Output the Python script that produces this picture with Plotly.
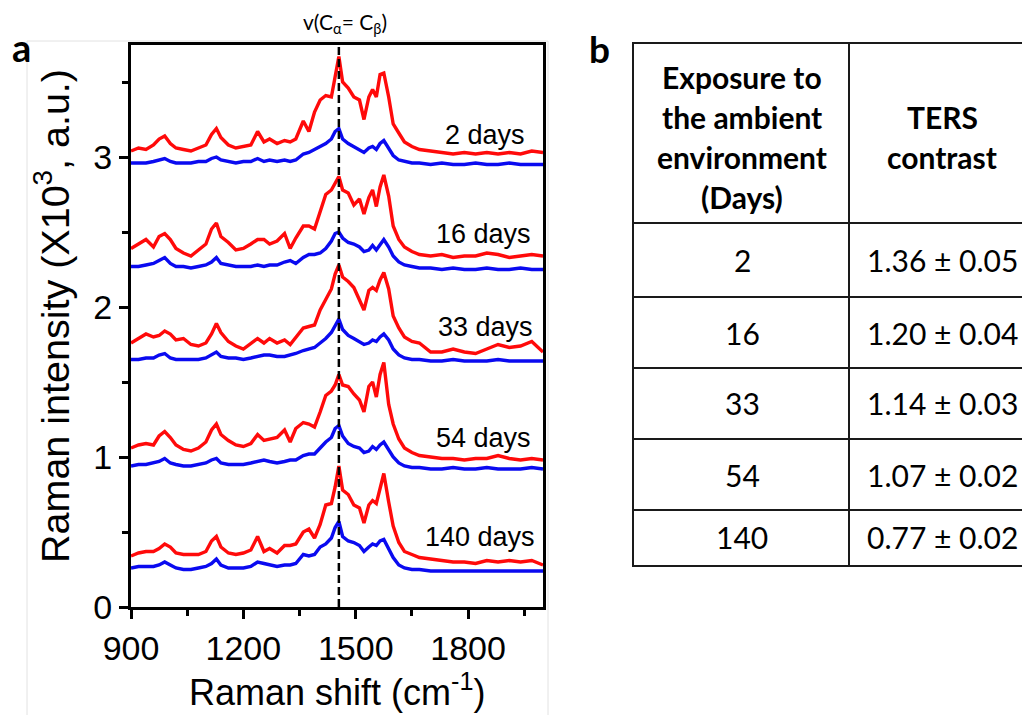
import plotly.graph_objects as go

W, H = 1022, 715

# ---------------- data ----------------
wavenumber = [900, 920, 940, 960, 975, 990, 1005, 1020, 1040, 1060, 1080, 1100, 1115, 1128, 1140,
              1160, 1180, 1200, 1220, 1238, 1255, 1270, 1290, 1310, 1325, 1340, 1360, 1375, 1390,
              1405, 1420, 1435, 1445, 1455, 1465, 1480, 1495, 1510, 1522, 1535, 1545, 1555, 1565,
              1575, 1588, 1600, 1615, 1630, 1650, 1670, 1700, 1730, 1760, 1790, 1820, 1850, 1880,
              1910, 1940, 1970, 2000]

red_2 = [3.04, 3.06, 3.05, 3.08, 3.12, 3.14, 3.09, 3.06, 3.05, 3.04, 3.06, 3.08, 3.15, 3.19, 3.13,
         3.08, 3.06, 3.07, 3.08, 3.17, 3.10, 3.12, 3.09, 3.11, 3.10, 3.12, 3.24, 3.17, 3.30,
         3.38, 3.41, 3.40, 3.55, 3.67, 3.50, 3.46, 3.40, 3.38, 3.25, 3.40, 3.45, 3.40, 3.55,
         3.56, 3.40, 3.22, 3.16, 3.10, 3.07, 3.05, 3.04, 3.03, 3.02, 3.03, 3.02, 3.03, 3.02,
         3.03, 3.02, 3.04, 3.03]
blue_2 = [2.96, 2.96, 2.96, 2.97, 2.98, 2.99, 2.97, 2.96, 2.96, 2.96, 2.97, 2.97, 2.99, 3.00, 2.98,
          2.97, 2.96, 2.97, 2.97, 2.99, 2.97, 2.98, 2.97, 2.98, 2.97, 2.98, 3.02, 3.03, 3.05,
          3.07, 3.09, 3.12, 3.17, 3.19, 3.12, 3.09, 3.07, 3.05, 3.03, 3.06, 3.07, 3.05, 3.09,
          3.11, 3.06, 3.01, 2.98, 2.97, 2.96, 2.96, 2.95, 2.96, 2.95, 2.95, 2.96, 2.95, 2.95,
          2.96, 2.95, 2.95, 2.95]
red_16 = [2.39, 2.42, 2.45, 2.40, 2.47, 2.49, 2.45, 2.39, 2.36, 2.34, 2.38, 2.42, 2.52, 2.56, 2.47,
          2.43, 2.38, 2.39, 2.42, 2.45, 2.45, 2.42, 2.44, 2.49, 2.39, 2.46, 2.54, 2.54, 2.52,
          2.63, 2.75, 2.78, 2.82, 2.87, 2.78, 2.76, 2.68, 2.72, 2.62, 2.73, 2.78, 2.67, 2.80,
          2.88, 2.74, 2.54, 2.45, 2.40, 2.37, 2.35, 2.34, 2.35, 2.33, 2.34, 2.34, 2.36, 2.35,
          2.33, 2.34, 2.35, 2.34]
blue_16 = [2.27, 2.27, 2.28, 2.29, 2.31, 2.33, 2.29, 2.27, 2.27, 2.26, 2.27, 2.28, 2.30, 2.33, 2.29,
           2.28, 2.27, 2.27, 2.27, 2.28, 2.27, 2.28, 2.28, 2.30, 2.31, 2.29, 2.33, 2.35, 2.35,
           2.36, 2.39, 2.44, 2.49, 2.50, 2.46, 2.43, 2.42, 2.40, 2.37, 2.38, 2.41, 2.38, 2.42,
           2.45, 2.40, 2.34, 2.30, 2.28, 2.27, 2.26, 2.26, 2.25, 2.26, 2.25, 2.25, 2.26, 2.25,
           2.25, 2.26, 2.25, 2.25]
red_33 = [1.76, 1.79, 1.82, 1.80, 1.81, 1.84, 1.82, 1.78, 1.79, 1.75, 1.74, 1.76, 1.82, 1.89, 1.83,
          1.77, 1.74, 1.72, 1.76, 1.79, 1.76, 1.79, 1.76, 1.78, 1.75, 1.80, 1.86, 1.87, 1.88,
          1.98, 2.05, 2.12, 2.22, 2.28, 2.20, 2.17, 2.13, 2.05, 1.98, 2.11, 2.13, 2.11, 2.18,
          2.23, 2.12, 1.94, 1.86, 1.80, 1.77, 1.76, 1.70, 1.70, 1.72, 1.70, 1.69, 1.72, 1.75,
          1.73, 1.74, 1.77, 1.70]
blue_33 = [1.65, 1.65, 1.66, 1.66, 1.68, 1.69, 1.66, 1.65, 1.65, 1.65, 1.65, 1.66, 1.68, 1.70, 1.67,
           1.66, 1.66, 1.65, 1.66, 1.67, 1.68, 1.68, 1.67, 1.67, 1.68, 1.69, 1.71, 1.72, 1.73,
           1.76, 1.79, 1.83, 1.88, 1.92, 1.85, 1.81, 1.79, 1.77, 1.75, 1.76, 1.78, 1.77, 1.80,
           1.82, 1.78, 1.72, 1.68, 1.66, 1.65, 1.65, 1.64, 1.64, 1.65, 1.64, 1.64, 1.64, 1.65,
           1.64, 1.64, 1.64, 1.64]
red_54 = [1.06, 1.08, 1.09, 1.08, 1.14, 1.17, 1.13, 1.08, 1.05, 1.04, 1.06, 1.10, 1.18, 1.22, 1.15,
          1.11, 1.08, 1.07, 1.09, 1.15, 1.11, 1.12, 1.13, 1.18, 1.10, 1.19, 1.23, 1.22, 1.20,
          1.30, 1.41, 1.44, 1.48, 1.55, 1.48, 1.47, 1.42, 1.38, 1.30, 1.47, 1.50, 1.40, 1.55,
          1.63, 1.35, 1.22, 1.12, 1.06, 1.03, 1.01, 1.00, 0.99, 0.99, 0.98, 0.99, 0.99, 1.01,
          0.99, 0.98, 0.99, 0.98]
blue_54 = [0.94, 0.95, 0.95, 0.96, 0.97, 0.99, 0.96, 0.95, 0.94, 0.94, 0.95, 0.96, 0.98, 0.99, 0.96,
           0.95, 0.95, 0.95, 0.96, 0.97, 0.98, 0.97, 0.96, 0.97, 0.98, 0.98, 1.01, 1.02, 1.02,
           1.06, 1.10, 1.13, 1.19, 1.21, 1.14, 1.09, 1.07, 1.06, 1.03, 1.04, 1.07, 1.05, 1.08,
           1.10, 1.05, 1.00, 0.96, 0.94, 0.93, 0.93, 0.92, 0.92, 0.93, 0.92, 0.92, 0.93, 0.92,
           0.92, 0.92, 0.93, 0.92]
red_140 = [0.34, 0.36, 0.37, 0.37, 0.39, 0.42, 0.40, 0.36, 0.35, 0.35, 0.35, 0.37, 0.44, 0.47, 0.40,
           0.36, 0.35, 0.36, 0.38, 0.47, 0.37, 0.39, 0.36, 0.41, 0.41, 0.42, 0.50, 0.52, 0.46,
           0.55, 0.68, 0.69, 0.80, 0.94, 0.78, 0.75, 0.68, 0.66, 0.56, 0.68, 0.71, 0.69, 0.78,
           0.89, 0.70, 0.54, 0.43, 0.37, 0.35, 0.33, 0.32, 0.31, 0.30, 0.30, 0.29, 0.31, 0.30,
           0.31, 0.30, 0.31, 0.28]
blue_140 = [0.26, 0.27, 0.27, 0.27, 0.28, 0.30, 0.28, 0.26, 0.25, 0.25, 0.26, 0.27, 0.29, 0.32, 0.28,
            0.26, 0.26, 0.26, 0.27, 0.30, 0.29, 0.28, 0.27, 0.28, 0.28, 0.29, 0.35, 0.34, 0.35,
            0.40, 0.42, 0.46, 0.53, 0.57, 0.47, 0.44, 0.43, 0.41, 0.37, 0.40, 0.42, 0.41, 0.44,
            0.45, 0.39, 0.33, 0.28, 0.26, 0.25, 0.25, 0.24, 0.24, 0.24, 0.24, 0.24, 0.24, 0.24,
            0.24, 0.24, 0.24, 0.24]

red_series = [red_2, red_16, red_33, red_54, red_140]
blue_series = [blue_2, blue_16, blue_33, blue_54, blue_140]
day_labels = ["2 days", "16 days", "33 days", "54 days", "140 days"]
label_x = [1958, 1973, 1979, 1973, 1984]
label_y = [3.15, 2.49, 1.87, 1.13, 0.47]

x_ticks = [900, 1200, 1500, 1800]
x_minor = [1050, 1350, 1650, 1950]
y_ticks = [0, 1, 2, 3]
y_minor = [0.5, 1.5, 2.5, 3.5]
peak_position = 1455

days = [2, 16, 33, 54, 140]
contrast_mean = [1.36, 1.20, 1.14, 1.07, 0.77]
contrast_err = [0.05, 0.04, 0.03, 0.02, 0.02]
header_col1 = ["Exposure to", "the ambient", "environment", "(Days)"]
header_col2 = ["TERS", "contrast"]

# ---------------- figure ----------------
def px(x):
    return x / W

def py(y):
    return 1 - y / H

RED = "#ff0a0a"
BLUE = "#0a0af0"
ARIAL = "Liberation Sans, Arial, sans-serif"
CAL = "Lato, Carlito, Calibri, sans-serif"

fig = go.Figure()
for r, b in zip(red_series, blue_series):
    fig.add_trace(go.Scatter(x=wavenumber, y=b, mode="lines", line=dict(color=BLUE, width=3.4),
                             hoverinfo="skip"))
    fig.add_trace(go.Scatter(x=wavenumber, y=r, mode="lines", line=dict(color=RED, width=3.4),
                             hoverinfo="skip"))

x0p, x1p = 131, 543
y0p, y1p = 45, 607
fig.update_layout(
    width=W, height=H, margin=dict(l=0, r=0, t=0, b=0, autoexpand=False),
    paper_bgcolor="white", plot_bgcolor="white", showlegend=False,
    xaxis=dict(domain=[px(x0p), px(x1p)], range=[900, 2000], tickvals=x_ticks, automargin=False,
               ticks="outside", ticklen=9, tickwidth=3, tickcolor="black",
               showline=True, linewidth=3, linecolor="black", mirror=True,
               showgrid=False, zeroline=False, ticklabelstandoff=0,
               tickfont=dict(family=ARIAL, size=34, color="black"),
               minor=dict(tickvals=x_minor, ticks="outside", ticklen=6, tickwidth=3,
                          tickcolor="black", showgrid=False)),
    yaxis=dict(domain=[py(y1p), py(y0p)], range=[0, (y1p - y0p) / 150], tickvals=y_ticks,
               automargin=False,
               ticks="outside", ticklen=9, tickwidth=3, tickcolor="black",
               showline=True, linewidth=3, linecolor="black", mirror=True,
               showgrid=False, zeroline=False,
               tickfont=dict(family=ARIAL, size=34, color="black"),
               minor=dict(tickvals=y_minor, ticks="outside", ticklen=6, tickwidth=3,
                          tickcolor="black", showgrid=False)),
)

shapes = []
# faint frame around panel a
shapes.append(dict(type="rect", xref="paper", yref="paper", x0=px(27), x1=px(548), y0=py(725), y1=py(41),
                   line=dict(color="#e2e2e2", width=1), layer="below"))
# dashed peak marker
shapes.append(dict(type="line", xref="x", yref="y domain", x0=peak_position, x1=peak_position, y0=0, y1=1,
                   line=dict(color="black", width=2.5, dash="8px,4px")))

# table grid
tbl_left, tbl_mid, tbl_right = 633, 849, 1040
row_edges = [43, 223, 297, 368, 439, 510, 566]
for yy in row_edges:
    shapes.append(dict(type="line", xref="paper", yref="paper", x0=px(tbl_left - 1), x1=px(tbl_right),
                       y0=py(yy), y1=py(yy), line=dict(color="#1a1a1a", width=2)))
for xx in [tbl_left, tbl_mid]:
    shapes.append(dict(type="line", xref="paper", yref="paper", x0=px(xx), x1=px(xx),
                       y0=py(row_edges[0]), y1=py(row_edges[-1]), line=dict(color="#1a1a1a", width=2)))
fig.update_layout(shapes=shapes)

ann = []
for lab, lx, ly in zip(day_labels, label_x, label_y):
    ann.append(dict(x=lx, y=ly, xref="x", yref="y", text=lab, showarrow=False, xanchor="right",
                    yanchor="middle", font=dict(family=ARIAL, size=27, color="black")))

ann.append(dict(x=px(345), y=py(23), xref="paper", yref="paper",
                text="v(C<sub>α</sub>= C<sub>β</sub>)", showarrow=False, xanchor="center", yanchor="middle",
                font=dict(family=CAL, size=21, color="black")))
ann.append(dict(x=px(52), y=py(316), xref="paper", yref="paper",
                text="Raman intensity (X10<sup>3</sup>, a.u.)", textangle=-90, showarrow=False,
                xanchor="center", yanchor="middle", font=dict(family=ARIAL, size=39.5, color="black")))
ann.append(dict(x=px(337), y=py(690), xref="paper", yref="paper",
                text="Raman shift (cm<sup>-1</sup>)", showarrow=False,
                xanchor="center", yanchor="middle", font=dict(family=ARIAL, size=36, color="black")))
ann.append(dict(x=px(21), y=py(47), xref="paper", yref="paper", text="<b>a</b>", showarrow=False,
                xanchor="center", yanchor="middle", font=dict(family=CAL, size=38, color="black")))
ann.append(dict(x=px(599), y=py(48), xref="paper", yref="paper", text="<b>b</b>", showarrow=False,
                xanchor="center", yanchor="middle", font=dict(family=CAL, size=37, color="black")))

# table text
c1 = (tbl_left + tbl_mid) / 2 + 1
c2 = 942
for i, line in enumerate(header_col1):
    ann.append(dict(x=px(c1), y=py(77 + 40 * i), xref="paper", yref="paper", text=f"<b>{line}</b>",
                    showarrow=False, xanchor="center", yanchor="middle",
                    font=dict(family=CAL, size=30, color="black")))
for i, line in enumerate(header_col2):
    ann.append(dict(x=px(c2), y=py(117 + 40 * i), xref="paper", yref="paper", text=f"<b>{line}</b>",
                    showarrow=False, xanchor="center", yanchor="middle",
                    font=dict(family=CAL, size=30, color="black")))
for k, (d, m, e) in enumerate(zip(days, contrast_mean, contrast_err)):
    top, bot = row_edges[k + 1], row_edges[k + 2]
    yc = (top + bot) / 2 + (0 if k < 4 else -1)
    ann.append(dict(x=px(c1), y=py(yc), xref="paper", yref="paper", text=str(d), showarrow=False,
                    xanchor="center", yanchor="middle", font=dict(family=CAL, size=30, color="black")))
    ann.append(dict(x=px(c2), y=py(yc), xref="paper", yref="paper", text=f"{m:.2f} ± {e:.2f}",
                    showarrow=False, xanchor="center", yanchor="middle",
                    font=dict(family=CAL, size=30, color="black")))
fig.update_layout(annotations=ann)

fig.write_html("out.html")
